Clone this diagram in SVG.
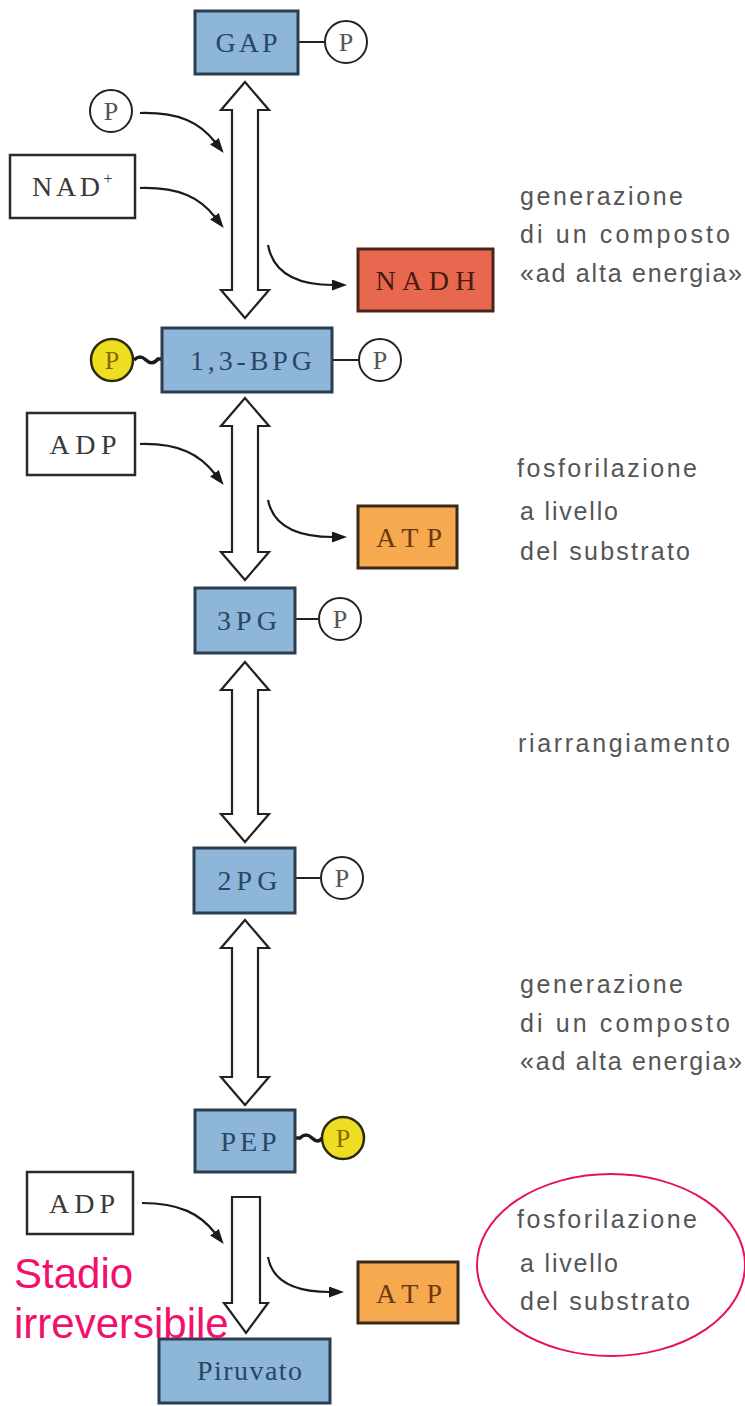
<svg xmlns="http://www.w3.org/2000/svg" width="745" height="1406" viewBox="0 0 745 1406">
  <defs>
    <marker id="head" markerUnits="userSpaceOnUse" markerWidth="15" markerHeight="11" refX="1" refY="5.5" orient="auto">
      <path d="M0,0 L15,5.5 L0,11 Z" fill="#1a1a1a"/>
    </marker>
    <style>
      .met { fill: #8db6d8; stroke: #2c3d50; stroke-width: 3; }
      .plain { fill: #ffffff; stroke: #2a2a2a; stroke-width: 2.5; }
      .nadh { fill: #e8684f; stroke: #4a2418; stroke-width: 3; }
      .atp { fill: #f6a94f; stroke: #3a2a18; stroke-width: 3; }
      .lbl { font-family: "Liberation Serif", "Times New Roman", serif; font-size: 28px; text-anchor: middle; }
      .lblb { fill: #2a4664; }
      .lblw { fill: #3a3a3a; }
      .lbla { fill: #6a3a12; }
      .lbln { fill: #4a1a10; }
      .pc { fill: #ffffff; stroke: #222222; stroke-width: 2; }
      .py { fill: #eede22; stroke: #2a2a10; stroke-width: 2.5; }
      .pt { font-family: "Liberation Serif", "Times New Roman", serif; font-size: 26px; text-anchor: middle; fill: #555555; }
      .pty { fill: #8a6400; }
      .bond { stroke: #222222; stroke-width: 2; fill: none; }
      .hbond { stroke: #1a1a1a; stroke-width: 3.5; fill: none; }
      .dbl { fill: #ffffff; stroke: #222222; stroke-width: 2.2; stroke-linejoin: miter; }
      .cur { fill: none; stroke: #1a1a1a; stroke-width: 2.2; marker-end: url(#head); }
      .note { font-family: "Liberation Sans", Arial, sans-serif; font-size: 25px; fill: #555555; }
      .red { font-family: "Liberation Sans", Arial, sans-serif; font-size: 42px; fill: #f2106c; }
    </style>
  </defs>

  <rect width="745" height="1406" fill="#ffffff"/>

  <!-- reaction arrows along the pathway -->
  <g id="connectors">
    <polygon class="dbl" points="245,82 269,110 258,110 258,290 269,290 245,318 221,290 232,290 232,110 221,110"/>
    <polygon class="dbl" points="245,398 269,426 258,426 258,552 269,552 245,580 221,552 232,552 232,426 221,426"/>
    <polygon class="dbl" points="245,662 269,690 258,690 258,814 269,814 245,842 221,814 232,814 232,690 221,690"/>
    <polygon class="dbl" points="245,920 269,948 258,948 258,1077 269,1077 245,1105 221,1077 232,1077 232,948 221,948"/>
    <polygon class="dbl" points="232,1197 260,1197 260,1303 268,1303 246,1333 224,1303 232,1303"/>

    <path class="cur" d="M140,113 C180,112 200,123 215,142"/>
    <path class="cur" d="M140,188 C180,187 200,198 215,217"/>
    <path class="cur" d="M268,245 C273,272 295,285 333,285"/>
    <path class="cur" d="M140,444 C180,443 200,455 215,474"/>
    <path class="cur" d="M268,500 C273,525 295,537 333,537"/>
    <path class="cur" d="M142,1203 C180,1203 200,1214 215,1233"/>
    <path class="cur" d="M268,1257 C272,1280 293,1292 330,1292"/>

    <!-- phosphate bonds -->
    <line class="bond" x1="298" y1="42" x2="324" y2="42"/>
    <line class="bond" x1="332" y1="360" x2="358" y2="360"/>
    <line class="bond" x1="295" y1="619" x2="318" y2="619"/>
    <line class="bond" x1="295" y1="878" x2="320" y2="878"/>
    <path class="hbond" d="M134,360 Q140,354 146,360 T158,359 L162,359"/>
    <path class="hbond" d="M296,1138 L300,1138 Q306,1132 312,1138 T322,1138"/>
  </g>

  <g id="gap">
    <rect class="met" x="195" y="11" width="103" height="63"/>
    <text class="lbl lblb" x="246.5" y="52" textLength="62" lengthAdjust="spacing">GAP</text>
  </g>
  <g id="p-gap">
    <circle class="pc" cx="346" cy="42" r="21"/>
    <text class="pt" x="346" y="51">P</text>
  </g>

  <g id="p-free">
    <circle class="pc" cx="111" cy="111" r="21"/>
    <text class="pt" x="111" y="120">P</text>
  </g>

  <g id="nad">
    <rect class="plain" x="10" y="155" width="125" height="63"/>
    <text class="lbl lblw" x="66" y="196" textLength="68" lengthAdjust="spacing">NAD</text>
    <text class="lbl lblw" x="108" y="184" style="font-size:16px">+</text>
  </g>

  <g id="nadh">
    <rect class="nadh" x="358" y="249" width="135" height="62"/>
    <text class="lbl lbln" x="425.5" y="290" textLength="100" lengthAdjust="spacing">NADH</text>
  </g>

  <g id="bpg">
    <rect class="met" x="162" y="328" width="170" height="64"/>
    <text class="lbl lblb" x="251" y="370" textLength="122" lengthAdjust="spacing">1,3-BPG</text>
  </g>
  <g id="p-bpg-yellow">
    <circle class="py" cx="112" cy="360" r="21"/>
    <text class="pt pty" x="112" y="369">P</text>
  </g>
  <g id="p-bpg">
    <circle class="pc" cx="380" cy="360" r="21"/>
    <text class="pt" x="380" y="369">P</text>
  </g>

  <g id="adp1">
    <rect class="plain" x="27" y="413" width="108" height="62"/>
    <text class="lbl lblw" x="83" y="454" textLength="67" lengthAdjust="spacing">ADP</text>
  </g>

  <g id="atp1">
    <rect class="atp" x="358" y="506" width="99" height="62"/>
    <text class="lbl lbla" x="409" y="547" textLength="66" lengthAdjust="spacing">ATP</text>
  </g>

  <g id="pg3">
    <rect class="met" x="195" y="588" width="100" height="65"/>
    <text class="lbl lblb" x="247" y="630" textLength="60" lengthAdjust="spacing">3PG</text>
  </g>
  <g id="p-3pg">
    <circle class="pc" cx="340" cy="619" r="21"/>
    <text class="pt" x="340" y="628">P</text>
  </g>

  <g id="pg2">
    <rect class="met" x="194" y="848" width="101" height="65"/>
    <text class="lbl lblb" x="247.5" y="890" textLength="60" lengthAdjust="spacing">2PG</text>
  </g>
  <g id="p-2pg">
    <circle class="pc" cx="342" cy="878" r="21"/>
    <text class="pt" x="342" y="887">P</text>
  </g>

  <g id="pep">
    <rect class="met" x="195" y="1110" width="100" height="62"/>
    <text class="lbl lblb" x="248.5" y="1151" textLength="56" lengthAdjust="spacing">PEP</text>
  </g>
  <g id="p-pep-yellow">
    <circle class="py" cx="343" cy="1138" r="21"/>
    <text class="pt pty" x="343" y="1147">P</text>
  </g>

  <g id="adp2">
    <rect class="plain" x="27" y="1172" width="106" height="62"/>
    <text class="lbl lblw" x="82" y="1213" textLength="66" lengthAdjust="spacing">ADP</text>
  </g>

  <g id="atp2">
    <rect class="atp" x="358" y="1262" width="100" height="61"/>
    <text class="lbl lbla" x="409" y="1303" textLength="66" lengthAdjust="spacing">ATP</text>
  </g>

  <g id="piruvato">
    <rect class="met" x="159" y="1339" width="171" height="64"/>
    <text class="lbl lblb" x="249.5" y="1380" textLength="105" lengthAdjust="spacing">Piruvato</text>
  </g>

  <!-- step descriptions -->
  <g id="step1">
    <text class="note" x="520" y="205" textLength="163" lengthAdjust="spacing">generazione</text>
    <text class="note" x="520" y="243" textLength="210" lengthAdjust="spacing">di un composto</text>
    <text class="note" x="520" y="282" textLength="222" lengthAdjust="spacing">«ad alta energia»</text>
  </g>
  <g id="step2">
    <text class="note" x="517" y="477" textLength="180" lengthAdjust="spacing">fosforilazione</text>
    <text class="note" x="520" y="520" textLength="98" lengthAdjust="spacing">a livello</text>
    <text class="note" x="520" y="560" textLength="170" lengthAdjust="spacing">del substrato</text>
  </g>
  <g id="step3">
    <text class="note" x="518" y="752" textLength="212" lengthAdjust="spacing">riarrangiamento</text>
  </g>
  <g id="step4">
    <text class="note" x="520" y="993" textLength="163" lengthAdjust="spacing">generazione</text>
    <text class="note" x="520" y="1032" textLength="210" lengthAdjust="spacing">di un composto</text>
    <text class="note" x="520" y="1070" textLength="222" lengthAdjust="spacing">«ad alta energia»</text>
  </g>
  <g id="step5">
    <text class="note" x="517" y="1228" textLength="180" lengthAdjust="spacing">fosforilazione</text>
    <text class="note" x="520" y="1272" textLength="98" lengthAdjust="spacing">a livello</text>
    <text class="note" x="520" y="1310" textLength="170" lengthAdjust="spacing">del substrato</text>
  </g>

  <!-- irreversible step highlight -->
  <g id="highlight">
    <ellipse cx="611" cy="1265" rx="134" ry="91" fill="none" stroke="#e8105e" stroke-width="2"/>
    <text class="red" x="14" y="1288">Stadio</text>
    <text class="red" x="14" y="1338">irreversibile</text>
  </g>
</svg>
